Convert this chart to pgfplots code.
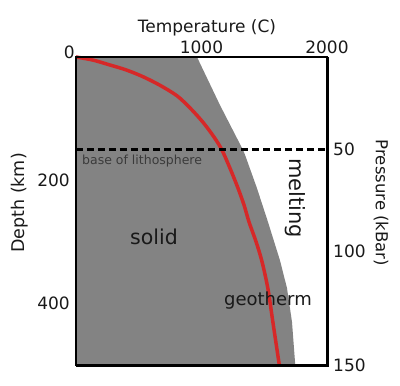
\documentclass[border=0pt]{standalone}
\usepackage{fontspec}
\setmainfont{DejaVu Sans}
\usepackage{pgfplots}
\pgfplotsset{compat=1.18}
\definecolor{gfill}{RGB}{131,131,131}
\definecolor{geo}{RGB}{214,40,40}
\definecolor{txt}{RGB}{25,25,25}
\newcommand\fs[1]{\fontsize{#1bp}{#1bp}\selectfont}
\begin{document}
\begin{tikzpicture}
\begin{axis}[
  width=251bp, height=308bp, scale only axis,
  xmin=0, xmax=2000, ymin=0, ymax=500, y dir=reverse,
  axis on top,
  axis line style={line width=2bp, black},
  xtick={1000,2000}, xticklabels={1000,2000},
  xticklabel pos=right,
  ytick={200,400}, yticklabels={200,400},
  major tick length=0pt, tick style={draw=none},
  xticklabel style={font=\fs{17}, text=txt, inner sep=0pt, anchor=base, yshift=4bp},
  yticklabel style={font=\fs{17}, text=txt, inner sep=0pt, anchor=east, xshift=-6bp},
  clip=false,
]
% solid region (left of solidus)
\addplot[fill=gfill, draw=none] coordinates {
  (0,0) (964,0) (1147,78) (1331,151) (1347,159) (1442,213) (1530,268)
  (1625,330) (1681,375) (1721,430) (1747,500) (0,500)} -- cycle;
% geotherm
\addplot[geo, line width=3.5bp, smooth, tension=0.5] coordinates {
  (0,0) (135,5) (271,13) (400,21) (534,32) (670,46) (805,63) (910,83)
  (1012,106) (1100,130) (1163,151) (1230,182) (1291,213) (1340,241)
  (1379,268) (1435,300) (1482,332) (1530,377) (1570,432) (1620,500)};
% base of lithosphere
\addplot[black, line width=3bp, dash pattern=on 7bp off 4bp] coordinates {(0,150) (2000,150)};
\draw[line width=3bp, black] (axis cs:0,500) -- (axis cs:2000,500) -- (axis cs:2000,0);
\coordinate (bl) at (axis cs:0,500);
\coordinate (tr) at (axis cs:2000,0);
\node[anchor=base east, font=\fs{17}, text=txt, inner sep=0pt] at ([shift={(-1bp,-1bp)}]axis cs:0,0) {0};
\node[anchor=base west, font=\fs{12.5}, text=txt!85!white, inner sep=0pt] at ([shift={(6bp,-15bp)}]axis cs:0,150) {base of lithosphere};
\node[anchor=base west, font=\fs{20.5}, text=txt, inner sep=0pt] at (axis cs:430,305) {solid};
\node[anchor=base west, font=\fs{18}, text=txt, inner sep=0pt] at (axis cs:1179,404) {geotherm};
\node[rotate=-90, font=\fs{21}, text=txt, inner sep=0pt] at (axis cs:1745,229) {melting};
\node[anchor=base, font=\fs{17}, text=txt, inner sep=0pt] at ([shift={(5.5bp,25bp)}]axis cs:1000,0) {Temperature (C)};
\node[rotate=90, font=\fs{17.5}, text=txt, inner sep=0pt] at ([shift={(-56bp,0bp)}]axis cs:0,237) {Depth (km)};
\node[rotate=-90, font=\fs{16.5}, text=txt, inner sep=0pt] at ([shift={(54bp,0bp)}]axis cs:2000,237) {Pressure (kBar)};
\end{axis}
\begin{axis}[
  width=251bp, height=308bp, scale only axis,
  xmin=0, xmax=2000, ymin=0, ymax=500, y dir=reverse,
  hide x axis, axis y line*=right, axis line style={draw=none},
  ytick={150,316,500}, yticklabels={50,100,150},
  major tick length=0pt, tick style={draw=none},
  yticklabel style={font=\fs{17}, text=txt, inner sep=0pt, anchor=west, xshift=6bp},
]
\addplot[draw=none] coordinates {(0,0)};
\end{axis}
\pgfresetboundingbox
\path ([shift={(-76bp,-21bp)}]bl) rectangle ([shift={(73bp,57bp)}]tr);
\end{tikzpicture}
\end{document}
